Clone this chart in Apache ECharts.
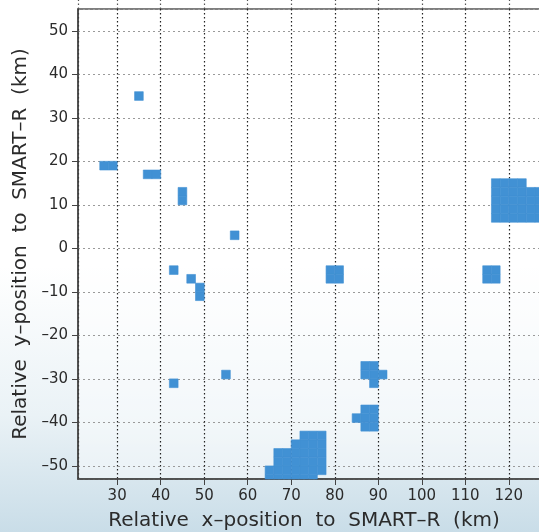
<!DOCTYPE html>
<html>
<head>
<meta charset="utf-8">
<script src="https://cdn.jsdelivr.net/npm/echarts@6/dist/echarts.min.js"></script>
<style>
  html, body { margin: 0; padding: 0; }
  #chart { width: 539px; height: 532px; }
</style>
</head>
<body>
<div id="chart"></div>
<script>
  // axis extents in km (square 108 x 108 km window)
  var xRange = [21, 129];
  var yRange = [-53, 55];
  var tickStep = 10;
  var cellSize = 2; // radar cells are 2 km wide

  var xTitle = 'Relative  x\u2013position  to  SMART\u2013R  (km)';
  var yTitle = 'Relative  y\u2013position  to  SMART\u2013R  (km)';

  // centres of the filled cells [x, y] in km
  var isolatedCells = [
    [35, 35],
    [27, 19], [29, 19],
    [37, 17], [39, 17],
    [45, 13], [45, 11],
    [57, 3],
    [43, -5], [47, -7], [49, -9], [49, -11],
    [43, -31], [55, -29],
    [79, -5], [81, -5], [79, -7], [81, -7],
    [115, -5], [117, -5], [115, -7], [117, -7]
  ];
  var clusterMid = [
    [87, -27], [89, -27], [87, -29], [89, -29], [91, -29], [89, -31],
    [87, -37], [89, -37], [85, -39], [87, -39], [89, -39], [87, -41], [89, -41]
  ];
  var clusterBottom = [
    [65, -51], [65, -53],
    [67, -47], [67, -49], [67, -51], [67, -53],
    [69, -47], [69, -49], [69, -51], [69, -53],
    [71, -45], [71, -47], [71, -49], [71, -51], [71, -53],
    [73, -43], [73, -45], [73, -47], [73, -49], [73, -51], [73, -53],
    [75, -43], [75, -45], [75, -47], [75, -49], [75, -51], [75, -53],
    [77, -43], [77, -45], [77, -47], [77, -49], [77, -51]
  ];
  var clusterRight = [
    [117, 15], [119, 15], [121, 15], [123, 15],
    [117, 13], [119, 13], [121, 13], [123, 13], [125, 13], [127, 13],
    [117, 11], [119, 11], [121, 11], [123, 11], [125, 11], [127, 11],
    [117, 9], [119, 9], [121, 9], [123, 9], [125, 9], [127, 9],
    [117, 7], [119, 7], [121, 7], [123, 7], [125, 7], [127, 7]
  ];

  var cells = isolatedCells.concat(clusterMid, clusterBottom, clusterRight);

  var blue = '#4191d4';
  var ink = '#2b2b2b';

  function minusFmt(v) {
    return String(v).replace('-', '\u2013');
  }

  var chart = echarts.init(document.getElementById('chart'));

  chart.setOption({
    animation: false,
    backgroundColor: {
      type: 'linear', x: 0, y: 0, x2: 0, y2: 1,
      colorStops: [
        { offset: 0, color: '#ffffff' },
        { offset: 0.5, color: '#ffffff' },
        { offset: 0.78, color: '#eaf2f6' },
        { offset: 1, color: '#c9dde8' }
      ]
    },
    grid: {
      left: 78, top: 9, width: 470, height: 470,
      outerBoundsMode: 'none',
      containLabel: false,
      show: true,
      backgroundColor: 'rgba(255,255,255,0.45)',
      borderColor: '#555',
      borderWidth: 1.5
    },
    xAxis: [{
      type: 'value',
      min: xRange[0], max: xRange[1],
      minInterval: tickStep, maxInterval: tickStep,
      position: 'bottom',
      name: xTitle,
      nameLocation: 'middle',
      nameGap: 32,
      nameTextStyle: { fontFamily: 'DejaVu Sans', fontSize: 20, color: ink, padding: [0, 18, 0, 0] },
      axisLine: { show: true, onZero: false, lineStyle: { color: '#444', width: 1.5 } },
      axisTick: { show: true, length: 6, lineStyle: { color: '#444' } },
      axisLabel: {
        fontFamily: 'DejaVu Sans', fontSize: 15, color: ink, margin: 10,
        showMinLabel: false, showMaxLabel: false
      },
      splitLine: { show: true, lineStyle: { color: '#222', width: 1.2, type: [1.5, 2.5] } }
    }, {
      // only the dotted stubs poking above the frame
      type: 'value',
      min: xRange[0], max: xRange[1],
      minInterval: tickStep, maxInterval: tickStep,
      position: 'top',
      axisLine: { show: false, onZero: false },
      axisTick: { show: true, length: 9, lineStyle: { color: '#555', width: 1.2, type: [1.5, 2.5] } },
      axisLabel: { show: false },
      splitLine: { show: false }
    }],
    yAxis: {
      type: 'value',
      min: yRange[0], max: yRange[1],
      minInterval: tickStep, maxInterval: tickStep,
      name: yTitle,
      nameLocation: 'middle',
      nameGap: 42,
      nameTextStyle: { fontFamily: 'DejaVu Sans', fontSize: 20, color: ink },
      axisLine: { show: true, onZero: false, lineStyle: { color: '#444', width: 1.5 } },
      axisTick: { show: true, length: 6, lineStyle: { color: '#444' } },
      axisLabel: {
        fontFamily: 'DejaVu Sans', fontSize: 15, color: ink, margin: 10,
        showMinLabel: false, showMaxLabel: false,
        formatter: minusFmt
      },
      splitLine: { show: true, lineStyle: { color: '#9a9a9a', width: 1, type: [2, 3] } }
    },
    series: [{
      type: 'custom',
      xAxisIndex: 0,
      data: cells,
      renderItem: function (params, api) {
        var x = api.value(0), y = api.value(1);
        var p0 = api.coord([x - cellSize / 2, y + cellSize / 2]);
        var p1 = api.coord([x + cellSize / 2, y - cellSize / 2]);
        var rect = echarts.graphic.clipRectByRect(
          { x: p0[0], y: p0[1], width: p1[0] - p0[0], height: p1[1] - p0[1] },
          { x: params.coordSys.x, y: params.coordSys.y,
            width: params.coordSys.width, height: params.coordSys.height }
        );
        if (!rect) return;
        return {
          type: 'rect',
          shape: rect,
          style: { fill: blue, stroke: blue, lineWidth: 0.6 }
        };
      }
    }]
  });
</script>
</body>
</html>
